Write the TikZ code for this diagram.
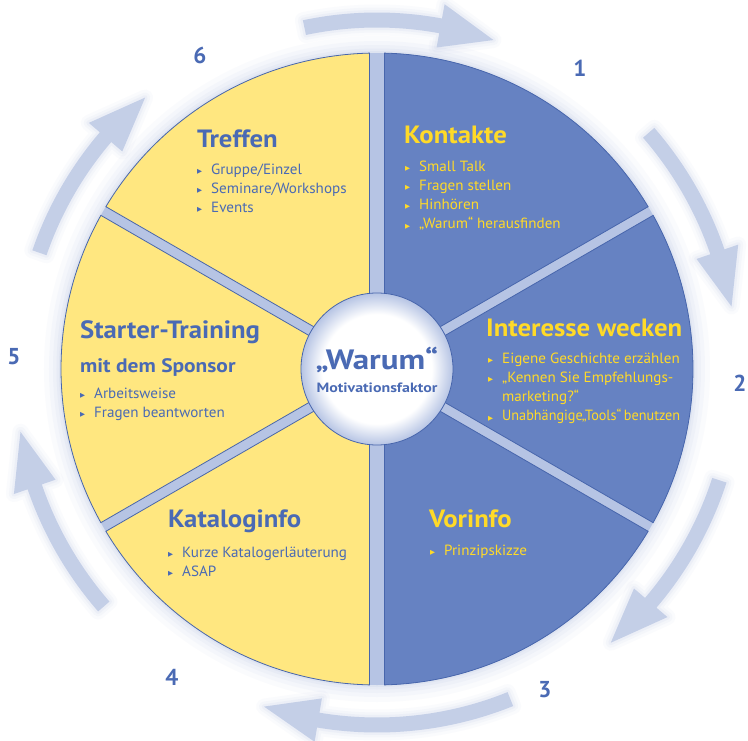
\documentclass[tikz,border=0pt]{standalone}
\usepackage{fontspec}
\setmainfont{PT Sans}
\newfontfamily\titlefont[FakeStretch=1.07]{PT Sans}
\newfontfamily\subfont[FakeStretch=1.1]{PT Sans}
\newfontfamily\centrefont[FakeStretch=1.18]{PT Sans}
\newfontfamily\itemfont[FakeStretch=1.02]{PT Sans}
\newfontfamily\itemnarrow[FakeStretch=0.96]{PT Sans}
\newfontfamily\symfont{DejaVu Sans}
\definecolor{segblue}{RGB}{102,130,194}
\definecolor{segyellow}{RGB}{255,231,128}
\definecolor{outl}{RGB}{72,102,172}
\definecolor{txtyellow}{RGB}{255,218,40}
\definecolor{txtblue}{RGB}{74,106,180}
\definecolor{gapcol}{RGB}{182,196,228}
\definecolor{arrowcol}{RGB}{196,207,231}
\definecolor{glowcol}{RGB}{150,168,214}
\pgfdeclareradialshading{innerglow}{\pgfpoint{0bp}{0bp}}{color(0bp)=(white); color(18bp)=(white); color(25bp)=(gapcol); color(50bp)=(gapcol)}
\newcommand\bul{\makebox[14pt][l]{\raisebox{0.12ex}{\symfont\fontsize{6.5}{6.5}\selectfont ▶}}}
\newcommand\cycarrow[5]{%
  \path[preaction={draw=glowcol,line width=16,opacity=0.04,line join=round},
        preaction={draw=glowcol,line width=10,opacity=0.06,line join=round},
        preaction={draw=glowcol,line width=5,opacity=0.08,line join=round},
        fill=arrowcol]
   ({#1}:{#4+7.5}) arc[start angle={#1}, end angle={#2}, radius={#4+7.5}]
   -- ({#2}:{#4+22}) -- ({#3}:{#4}) -- ({#2}:{#4-22}) -- ({#2}:{#4-7.5})
   arc[start angle={#2}, end angle={#1}, radius={#4-7.5}] -- cycle;
  \node[inner sep=0] (#5) at ({#1}:{#4}) {};}
\begin{document}
\begin{tikzpicture}[x=1pt,y=1pt,
  segline/.style={draw=outl,line width=0.8},
  title/.style={inner sep=0,anchor=base west,font=\titlefont\fontsize{25}{29}\selectfont\bfseries},
  sub/.style={inner sep=0,anchor=base west,font=\subfont\fontsize{19.5}{23}\selectfont\bfseries},
  itemlist/.style={inner sep=0,anchor=base west,font=\itemfont\fontsize{14.8}{19.3}\selectfont},
  numtext/.style={inner sep=0,font=\fontsize{23}{27}\selectfont\bfseries,text=txtblue},
  onblue/.style={text=txtyellow},
  onyellow/.style={text=txtblue}]
\useasboundingbox (-377,-371) rectangle (371,369);
\fill[white] (-377,-371) rectangle (371,369);
% halo around the disc
\foreach \w/\o in {34/0.04,24/0.05,16/0.06,9/0.08,4/0.1}
  \draw[glowcol,line width=\w,opacity=\o] (0,0) circle[radius=316];
\fill[gapcol] (0,0) circle[radius=316];
% segments
\filldraw[fill=segblue,segline] (53.4:12.58) -- (30.907:316) arc[start angle=30.907,end angle=88.64,radius=316] -- cycle;
\filldraw[fill=segblue,segline] (0:10) -- (-29.093:316) arc[start angle=-29.093,end angle=29.093,radius=316] -- cycle;
\filldraw[fill=segblue,segline] (-53.4:12.58) -- (-88.64:316) arc[start angle=-88.64,end angle=-30.907,radius=316] -- cycle;
\filldraw[fill=segyellow,segline] (126.6:12.58) -- (91.36:316) arc[start angle=91.36,end angle=149.093,radius=316] -- cycle;
\filldraw[fill=segyellow,segline] (180:10) -- (150.907:316) arc[start angle=150.907,end angle=209.093,radius=316] -- cycle;
\filldraw[fill=segyellow,segline] (233.4:12.58) -- (210.907:316) arc[start angle=210.907,end angle=268.64,radius=316] -- cycle;
% centre
\shade[shading=innerglow] (0,0) circle[radius=76];
\draw[segline] (0,0) circle[radius=76];
\node[inner sep=0,anchor=base,text=txtblue,font=\centrefont\fontsize{28}{30}\selectfont\bfseries] (warum) at (0,0) {„Warum“};
\node[inner sep=0,anchor=base,text=txtblue,font=\centrefont\fontsize{13.5}{15}\selectfont\bfseries] (motiv) at (0,-23) {Motivationsfaktor};
% cycle arrows
\cycarrow{102}{79.5}{70.5}{349}{a1}
\cycarrow{41}{19}{10}{360}{a2}
\cycarrow{-18}{-40.5}{-49.5}{360}{a3}
\cycarrow{-68}{-99.5}{-108.5}{356}{a4}
\cycarrow{221}{199}{190}{362}{a5}
\cycarrow{161}{139.5}{130.5}{357}{a6}
% numbers
\node[numtext] (n1) at (203,301) {1};
\node[numtext] (n2) at (363,-14) {2};
\node[numtext] (n3) at (168,-321) {3};
\node[numtext] (n4) at (-205,-308) {4};
\node[numtext] (n5) at (-363,12) {5};
\node[numtext] (n6) at (-177,314) {6};
% Kontakte
\node[title,onblue] (t1) at (27,226) {Kontakte};
\node[itemlist,onblue] (i1) at (28,198) {\begin{tabular}[t]{@{}l@{}l@{}}
\bul & Small Talk\\ \bul & Fragen stellen\\ \bul & Hinhören\\ \bul & „Warum“ herausfinden\end{tabular}};
% Interesse wecken
\node[title,onblue] (t2) at (109,33) {Interesse wecken};
\node[itemlist,onblue] (i2) at (111,6) {\begin{tabular}[t]{@{}l@{}l@{}}
\bul & Eigene Geschichte erzählen\\ \bul & „Kennen Sie Empfehlungs-\\ & marketing?“\\ \bul & {\itemnarrow Unabhängige\kern-1pt„Tools“\hspace{2.5pt}benutzen}\end{tabular}};
% Vorinfo
\node[title,onblue] (t3) at (52,-158) {Vorinfo};
\node[itemlist,onblue] (i3) at (53,-186) {\begin{tabular}[t]{@{}l@{}l@{}}
\bul & Prinzipskizze\end{tabular}};
% Kataloginfo
\node[title,onyellow] (t4) at (-209,-158) {Kataloginfo};
\node[itemlist,onyellow] (i4) at (-209,-188) {\begin{tabular}[t]{@{}l@{}l@{}}
\bul & Kurze Katalogerläuterung\\ \bul & ASAP\end{tabular}};
% Starter-Training
\node[title,onyellow] (t5) at (-297,31) {Starter-Training};
\node[sub,onyellow] (s5) at (-297,-3) {mit dem Sponsor};
\node[itemlist,onyellow] (i5) at (-297,-29) {\begin{tabular}[t]{@{}l@{}l@{}}
\bul & Arbeitsweise\\ \bul & Fragen beantworten\end{tabular}};
% Treffen
\node[title,onyellow] (t6) at (-180,222) {Treffen};
\node[itemlist,onyellow] (i6) at (-180,195) {\begin{tabular}[t]{@{}l@{}l@{}}
\bul & Gruppe/Einzel\\ \bul & Seminare/Workshops\\ \bul & Events\end{tabular}};
\end{tikzpicture}
\end{document}
